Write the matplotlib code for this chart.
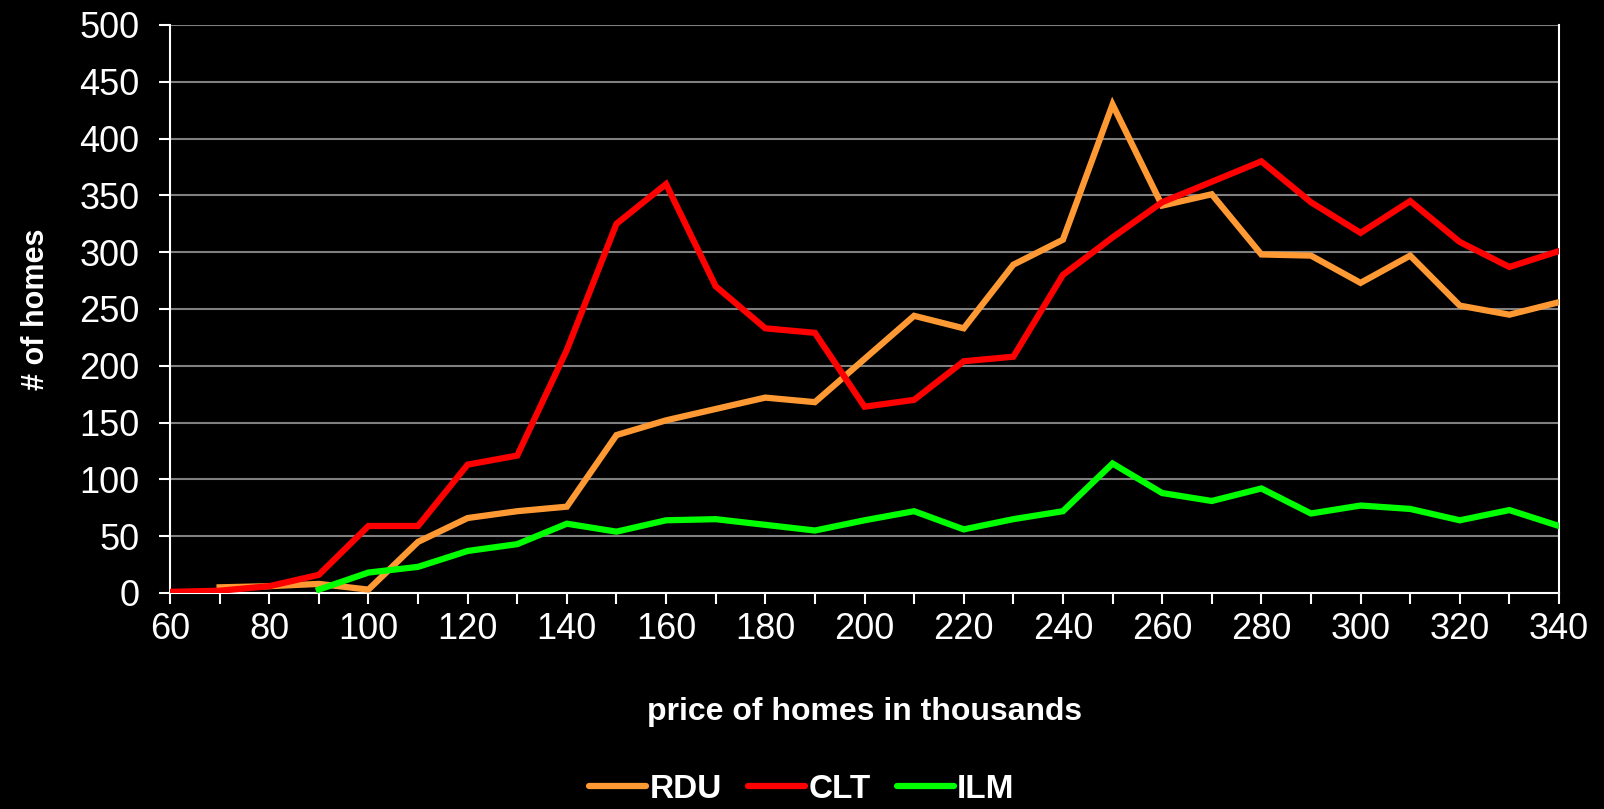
import matplotlib
matplotlib.use("Agg")
import matplotlib.pyplot as plt

plt.rcParams['font.family'] = ['Liberation Sans', 'DejaVu Sans']

# price of homes (thousands)
prices = list(range(60, 350, 10))

# number of homes per price bucket
rdu = [None, 5, 6, 8, 3, 45, 66, 72, 76, 139, 152, 162, 172, 168, 206, 244, 233, 289, 311,
       430, 341, 351, 298, 297, 273, 297, 253, 245, 256]
clt = [1, 2, 6, 16, 59, 59, 113, 121, 214, 325, 360, 270, 233, 229, 164, 170, 204, 208, 280,
       313, 344, 362, 380, 344, 317, 345, 309, 287, 301]
ilm = [None, None, None, 3, 18, 23, 37, 43, 61, 54, 64, 65, 60, 55, 64, 72, 56, 65, 72,
       114, 88, 81, 92, 70, 77, 74, 64, 73, 59]

series = [("RDU", rdu, "#FF9933"), ("CLT", clt, "#FF0000"), ("ILM", ilm, "#00FF00")]

W, H = 1604, 809
fig = plt.figure(figsize=(W / 100, H / 100), dpi=100, facecolor="black")
ax = fig.add_axes([170 / W, 1 - 593 / H, (1559 - 170) / W, (593 - 25) / H])
ax.set_facecolor("black")

for name, vals, col in series:
    xs = [p for p, v in zip(prices, vals) if v is not None]
    ys = [v for v in vals if v is not None]
    ax.plot(xs, ys, color=col, lw=4.5, label=name, solid_joinstyle="miter", zorder=3)

ax.set_xlim(60, 340)
ax.set_ylim(0, 500)
ax.set_xticks(range(60, 341, 20))
ax.set_xticks(range(60, 341, 10), minor=True)
ax.set_yticks(range(0, 501, 50))
ax.grid(axis="y", color="#808080", lw=1.5, zorder=1)

for side in ["left", "bottom", "right"]:
    ax.spines[side].set_color("white")
    ax.spines[side].set_linewidth(1.5)
ax.spines["top"].set_visible(False)

ax.tick_params(axis="both", colors="white", labelsize=26, width=1.5, length=8, direction="out")
ax.tick_params(axis="x", which="minor", colors="white", width=1.5, length=8, direction="out")
ax.tick_params(axis="x", pad=6)
ax.tick_params(axis="y", pad=14)

ax.set_xlabel("price of homes in thousands", color="white", fontsize=23, fontweight="bold",
              labelpad=36)
ax.set_ylabel("# of homes", color="white", fontsize=22, fontweight="bold", labelpad=20)

leg = fig.legend(loc="lower center", bbox_to_anchor=(0.5, -0.032), ncol=3, frameon=False,
                 prop={"size": 24, "weight": "bold"}, handlelength=1.7, handletextpad=0.1,
                 columnspacing=0.8)
for t in leg.get_texts():
    t.set_color("white")
for h in leg.get_lines():
    h.set_solid_capstyle("round")

fig.savefig("out.png", dpi=100, facecolor="black")
